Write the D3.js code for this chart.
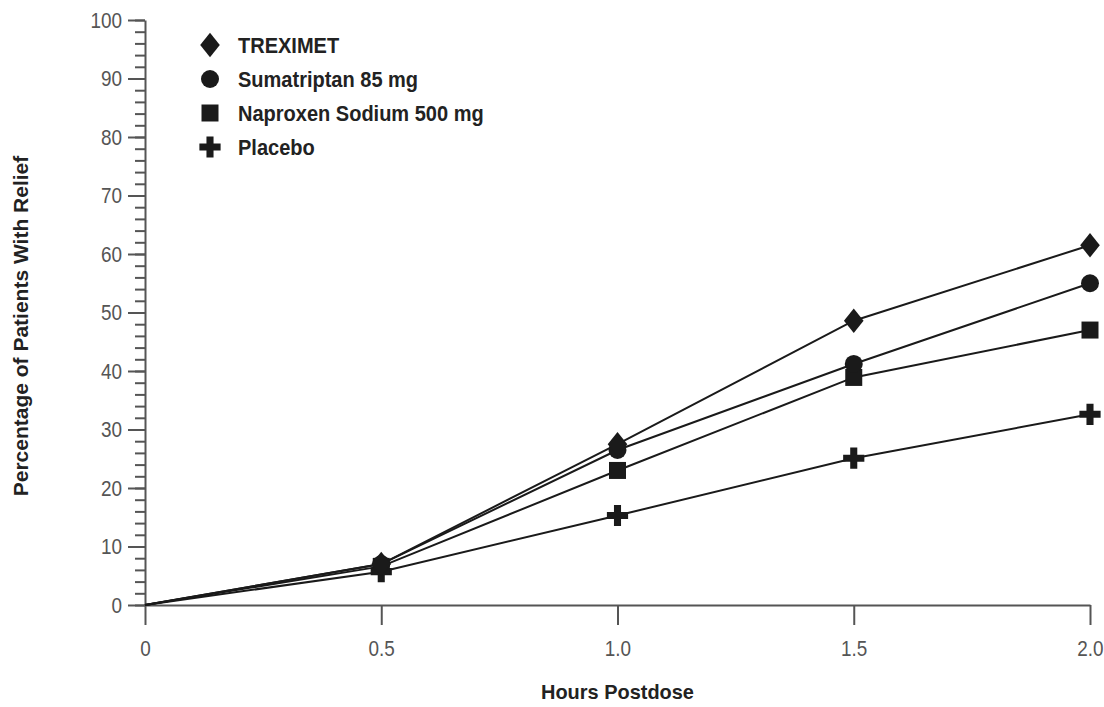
<!DOCTYPE html>
<html>
<head>
<meta charset="utf-8">
<script src="https://cdn.jsdelivr.net/npm/d3@7.9.0/dist/d3.min.js"></script>
<style>
  html, body { margin: 0; padding: 0; background: #fff; }
  svg { display: block; font-family: "Liberation Sans", Arial, sans-serif; }
  .tick text { fill: #555; font-size: 22px; transform-box: fill-box; transform: scaleX(0.86); }
  .y-axis .tick text { transform-origin: right center; }
  .x-axis .tick text { transform-origin: center; }
  .tick line, .domain { stroke: #555; stroke-width: 2; }
  .title { fill: #222; font-weight: bold; font-size: 21px; transform-box: fill-box; transform-origin: center; transform: scaleX(0.95); }
  .ytitle { fill: #222; font-weight: bold; font-size: 21px; }
  .legend text { fill: #222; font-weight: bold; font-size: 22px; transform-box: fill-box; transform-origin: left center; transform: scaleX(0.91); }
</style>
</head>
<body>
<svg id="chart" width="1104" height="707"></svg>
<script>
const hours = [0, 0.5, 1.0, 1.5, 2.0];
const xTickLabels = ['0', '0.5', '1.0', '1.5', '2.0'];
const seriesNames = ['TREXIMET', 'Sumatriptan 85 mg', 'Naproxen Sodium 500 mg', 'Placebo'];
const treximet = [0, 7.0, 27.5, 48.6, 61.5];
const sumatriptan = [0, 7.0, 26.5, 41.2, 55.0];
const naproxen = [0, 6.6, 23.0, 38.9, 47.0];
const placebo = [0, 5.7, 15.3, 25.1, 32.6];

const seriesValues = [treximet, sumatriptan, naproxen, placebo];

// wider diamond than d3's built-in one
const wideDiamond = {
  draw(context, size) {
    const h = Math.sqrt(size / 0.8) / 2;
    const w = h * 0.8;
    context.moveTo(0, -h);
    context.lineTo(w, 0);
    context.lineTo(0, h);
    context.lineTo(-w, 0);
    context.closePath();
  }
};

const symbols = [
  d3.symbol(wideDiamond, 480),
  d3.symbol(d3.symbolCircle, 254),
  d3.symbol(d3.symbolSquare, 289),
  d3.symbol(d3.symbolCross, 250)
];

const svg = d3.select('#chart');
const margin = { top: 20, right: 14, bottom: 102, left: 145 };
const width = 1104 - margin.left - margin.right;
const height = 707 - margin.top - margin.bottom;

const g = svg.append('g').attr('transform', `translate(${margin.left},${margin.top})`);

const x = d3.scaleLinear().domain([0, 2]).range([0, width]);
const y = d3.scaleLinear().domain([0, 100]).range([height, 0]);

// minor y ticks
g.append('g')
  .call(d3.axisLeft(y).tickValues(d3.range(0, 101, 2)).tickSize(10).tickSizeOuter(0).tickFormat(''))
  .call(a => a.select('.domain').remove());

g.append('g')
  .attr('class', 'y-axis')
  .call(d3.axisLeft(y).tickValues(d3.range(0, 101, 10)).tickSize(17).tickSizeOuter(0).tickPadding(6));

g.append('g')
  .attr('class', 'x-axis')
  .attr('transform', `translate(0,${height})`)
  .call(d3.axisBottom(x).tickValues(hours).tickSize(20).tickSizeOuter(0).tickPadding(15)
    .tickFormat((d, i) => xTickLabels[i]));

svg.append('text')
  .attr('class', 'title')
  .attr('x', margin.left + width / 2)
  .attr('y', 699)
  .attr('text-anchor', 'middle')
  .text('Hours Postdose');

svg.append('text')
  .attr('class', 'ytitle')
  .attr('transform', 'translate(28,326) rotate(-90)')
  .attr('text-anchor', 'middle')
  .text('Percentage of Patients With Relief');

const line = d3.line()
  .x((d, i) => x(hours[i]))
  .y(d => y(d));

const order = [3, 2, 1, 0];
order.forEach(s => {
  g.append('path')
    .datum(seriesValues[s])
    .attr('fill', 'none')
    .attr('stroke', '#1a1a1a')
    .attr('stroke-width', 2)
    .attr('d', line);
});

order.forEach(s => {
  g.selectAll(null)
    .data(seriesValues[s].map((v, i) => [hours[i], v]).filter(d => d[0] > 0))
    .join('path')
    .attr('transform', d => `translate(${x(d[0])},${y(d[1])})`)
    .attr('d', symbols[s])
    .attr('fill', '#1a1a1a');
});

const legend = svg.append('g').attr('class', 'legend');
seriesNames.forEach((name, i) => {
  const row = legend.append('g').attr('transform', `translate(210,${45 + i * 34})`);
  row.append('path').attr('d', symbols[i]).attr('fill', '#1a1a1a');
  row.append('text').attr('x', 28).attr('dy', '0.36em').text(name);
});
</script>
</body>
</html>
